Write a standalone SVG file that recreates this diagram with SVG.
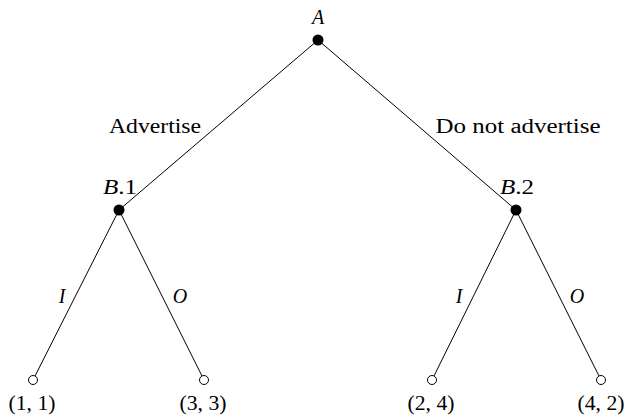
<svg xmlns="http://www.w3.org/2000/svg" width="626" height="418" viewBox="0 0 626 418">
<style>
text{font-family:"Liberation Serif","DejaVu Serif",serif;font-size:20px;fill:#000}
.it{font-style:italic}
.e{stroke:#000;stroke-width:1;fill:none}
.dec{fill:#000}
.leaf{fill:#fff;stroke:#000;stroke-width:1}
</style>
<rect width="626" height="418" fill="#fff"/>
<g id="connectors">
<line class="e" x1="318" y1="40" x2="119" y2="210"/>
<line class="e" x1="318" y1="40" x2="516" y2="210"/>
<line class="e" x1="119" y1="210" x2="33" y2="380"/>
<line class="e" x1="119" y1="210" x2="204" y2="380"/>
<line class="e" x1="516" y1="210" x2="432" y2="380"/>
<line class="e" x1="516" y1="210" x2="601" y2="380"/>
<text x="155" y="133" text-anchor="middle" textLength="92" lengthAdjust="spacingAndGlyphs">Advertise</text>
<text x="518" y="133" text-anchor="middle" textLength="165" lengthAdjust="spacingAndGlyphs">Do not advertise</text>
<text class="it" x="62" y="303" text-anchor="middle">I</text>
<text class="it" x="180" y="303" text-anchor="middle">O</text>
<text class="it" x="459" y="303" text-anchor="middle">I</text>
<text class="it" x="577" y="303" text-anchor="middle">O</text>
</g>
<g id="A"><circle class="dec" cx="318" cy="40" r="5.5"/><text class="it" x="318" y="24" text-anchor="middle">A</text></g>
<g id="B1"><circle class="dec" cx="119" cy="210" r="5.5"/><text x="120" y="194" text-anchor="middle" textLength="34" lengthAdjust="spacingAndGlyphs"><tspan class="it">B</tspan>.1</text></g>
<g id="B2"><circle class="dec" cx="516" cy="210" r="5.5"/><text x="517" y="194" text-anchor="middle" textLength="34" lengthAdjust="spacingAndGlyphs"><tspan class="it">B</tspan>.2</text></g>
<g id="L1"><circle class="leaf" cx="33" cy="380" r="4.5"/><text x="32" y="410" text-anchor="middle" textLength="47" lengthAdjust="spacingAndGlyphs">(1, 1)</text></g>
<g id="L2"><circle class="leaf" cx="204" cy="380" r="4.5"/><text x="203" y="410" text-anchor="middle" textLength="47" lengthAdjust="spacingAndGlyphs">(3, 3)</text></g>
<g id="L3"><circle class="leaf" cx="432" cy="380" r="4.5"/><text x="431" y="410" text-anchor="middle" textLength="47" lengthAdjust="spacingAndGlyphs">(2, 4)</text></g>
<g id="L4"><circle class="leaf" cx="601" cy="380" r="4.5"/><text x="601" y="410" text-anchor="middle" textLength="47" lengthAdjust="spacingAndGlyphs">(4, 2)</text></g>
</svg>
